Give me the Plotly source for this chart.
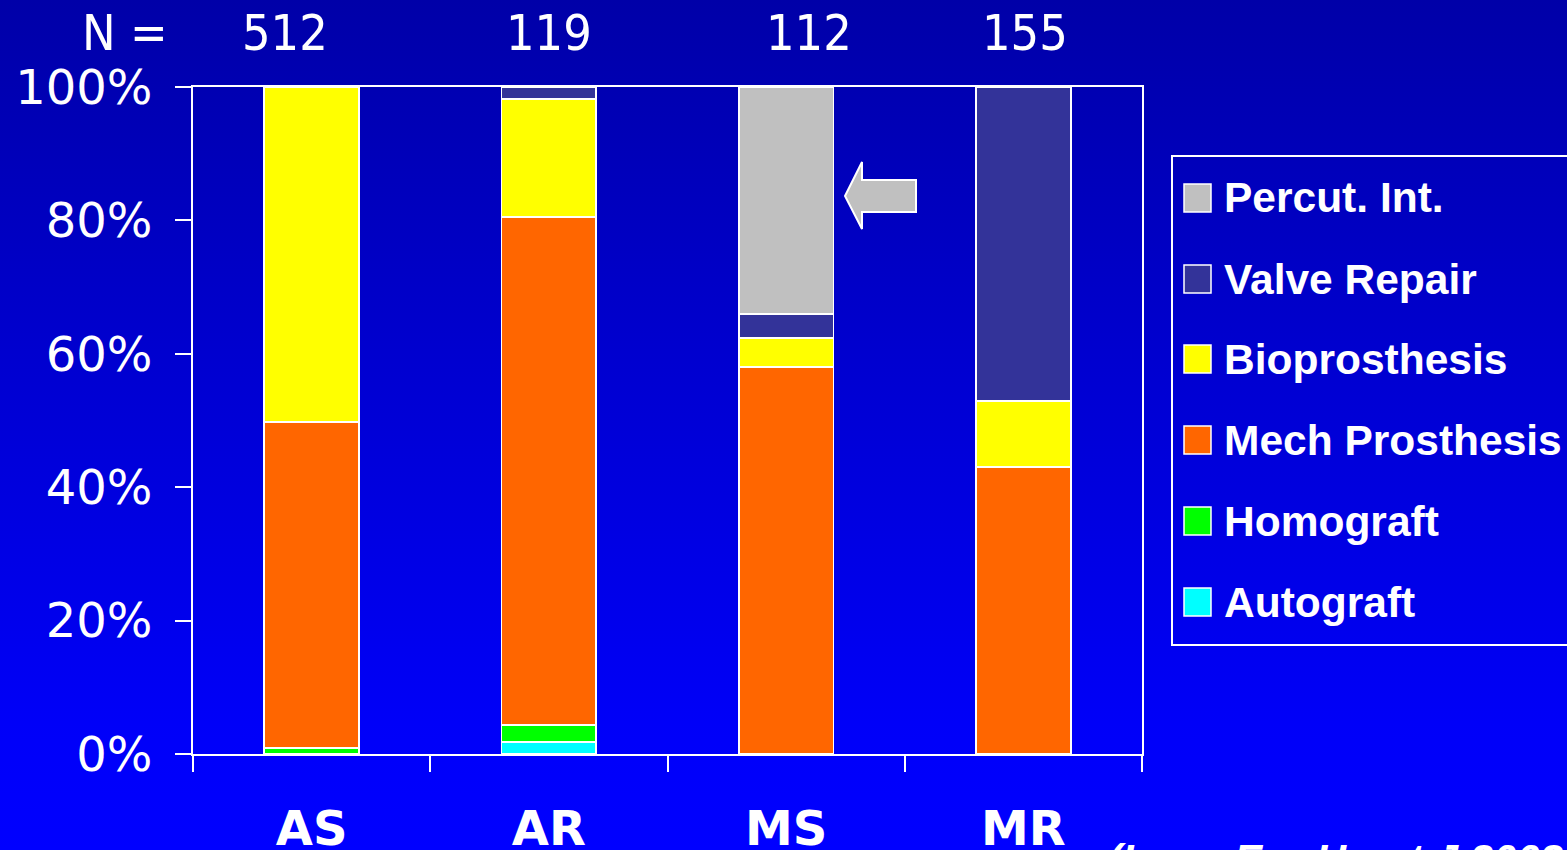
import base64
import plotly.graph_objects as go

# Valve disease groups and number of patients per group
categories = ["AS", "AR", "MS", "MR"]
n_patients = [512, 119, 112, 155]

# Share of each intervention type (%), stacked bottom to top
autograft = [0.0, 1.8, 0.0, 0.0]
homograft = [0.9, 2.5, 0.0, 0.0]
mech_prosthesis = [48.9, 76.2, 58.0, 43.0]
bioprosthesis = [50.2, 17.7, 4.4, 9.9]
valve_repair = [0.0, 1.8, 3.6, 47.1]
percut_int = [0.0, 0.0, 34.0, 0.0]

series = [
    ("Autograft", autograft, "#00FFFF"),
    ("Homograft", homograft, "#00FF00"),
    ("Mech Prosthesis", mech_prosthesis, "#FF6600"),
    ("Bioprosthesis", bioprosthesis, "#FFFF00"),
    ("Valve Repair", valve_repair, "#333399"),
    ("Percut. Int.", percut_int, "#C0C0C0"),
]

W, H = 1567, 850
ML, MR, MT, MB = 193, 425, 87, 96
PW, PH = W - ML - MR, H - MT - MB


def px_x(px):
    return (px - ML) / PW


def px_y(py):
    return 1 - (py - MT) / PH


def data_x(px):
    return (px - ML) / (PW / len(categories)) - 0.5


def data_y(py):
    return (MT + PH - py) / PH * 100


fig = go.Figure()
for name, values, color in series:
    fig.add_trace(go.Bar(
        x=categories, y=values, name=name, width=0.4,
        marker=dict(color=color, line=dict(color="white", width=1.8)),
        showlegend=False,
    ))

# Page background: vertical gradient from dark to bright blue
svg = (
    f'<svg xmlns="http://www.w3.org/2000/svg" width="{W}" height="{H}" preserveAspectRatio="none">'
    '<defs><linearGradient id="g" x1="0" y1="0" x2="0" y2="1">'
    '<stop offset="0" stop-color="#0000A8"/><stop offset="0.85" stop-color="#0000F8"/>'
    '<stop offset="1" stop-color="#0000FF"/>'
    '</linearGradient></defs>'
    f'<rect width="{W}" height="{H}" fill="url(#g)"/></svg>'
)
bg_src = "data:image/svg+xml;base64," + base64.b64encode(svg.encode()).decode()

shapes = []
annotations = []

# Arrow pointing at the percutaneous intervention segment
arrow_pts = [(845, 196), (862, 162), (862, 180), (916, 180), (916, 212), (862, 212), (862, 229)]
path = "M " + " L ".join(f"{data_x(a):.4f},{data_y(b):.4f}" for a, b in arrow_pts) + " Z"
shapes.append(dict(type="path", xref="x", yref="y", path=path,
                   fillcolor="#C0C0C0", line=dict(color="white", width=2)))

# Legend box, drawn by hand
shapes.append(dict(type="rect", xref="paper", yref="paper",
                   x0=px_x(1172), x1=px_x(1600), y0=px_y(645), y1=px_y(156),
                   line=dict(color="white", width=2), fillcolor="rgba(0,0,0,0)"))
row_y = [198, 279, 359, 440, 521, 602]
for (name, _, color), cy in zip(reversed(series), row_y):
    shapes.append(dict(type="rect", xref="paper", yref="paper",
                       x0=px_x(1184), x1=px_x(1211), y0=px_y(cy + 14), y1=px_y(cy - 14),
                       fillcolor=color, line=dict(color="white", width=1.5)))
    annotations.append(dict(xref="paper", yref="paper", x=px_x(1222), y=px_y(cy),
                            xanchor="left", yanchor="middle", text=f"<b>{name}</b>",
                            showarrow=False,
                            font=dict(family="Liberation Sans", size=42.5, color="white")))

# Patient counts above the bars
label_font = dict(family="DejaVu Sans Condensed, DejaVu Sans", size=50, color="white")
annotations.append(dict(xref="paper", yref="paper", x=px_x(125), y=px_y(33), text="N =",
                        showarrow=False, xanchor="center", yanchor="middle", font=label_font))
n_label_px = [285, 549, 809, 1025]
for n, xp in zip(n_patients, n_label_px):
    annotations.append(dict(xref="paper", yref="paper", x=px_x(xp), y=px_y(33), text=str(n),
                            showarrow=False, xanchor="center", yanchor="middle", font=label_font))

# Source reference
annotations.append(dict(xref="paper", yref="paper", x=px_x(1106), y=px_y(834),
                        text="<b><i>(Iung, Eur Heart J 2003)</i></b>", showarrow=False,
                        xanchor="left", yanchor="top",
                        font=dict(family="Liberation Sans", size=42, color="white")))

fig.update_layout(
    width=W, height=H,
    margin=dict(l=ML, r=MR, t=MT, b=MB, autoexpand=False),
    barmode="stack",
    paper_bgcolor="#0000D0",
    plot_bgcolor="rgba(0,0,0,0)",
    shapes=shapes,
    annotations=annotations,
    images=[dict(source=bg_src, xref="paper", yref="paper",
                 x=px_x(0), y=px_y(0), sizex=W / PW, sizey=H / PH,
                 xanchor="left", yanchor="top", sizing="stretch", layer="below")],
    xaxis=dict(
        type="category", tickson="boundaries", ticks="outside", ticklen=16,
        tickwidth=2, tickcolor="white", showline=True, linecolor="white", linewidth=2,
        mirror=True, showgrid=False, range=[-0.5, 3.5], automargin=False,
        tickfont=dict(family="DejaVu Sans", size=48, color="white", weight="bold"),
        ticklabelstandoff=31,
    ),
    yaxis=dict(
        range=[0, 100], dtick=20, ticksuffix="%", ticks="outside", ticklen=16,
        tickwidth=2, tickcolor="white", showline=True, linecolor="white", linewidth=2,
        mirror=True, showgrid=False, zeroline=False, automargin=False,
        tickfont=dict(family="DejaVu Sans", size=48, color="white"),
        ticklabelstandoff=13,
    ),
)

fig.write_html("out.html")
